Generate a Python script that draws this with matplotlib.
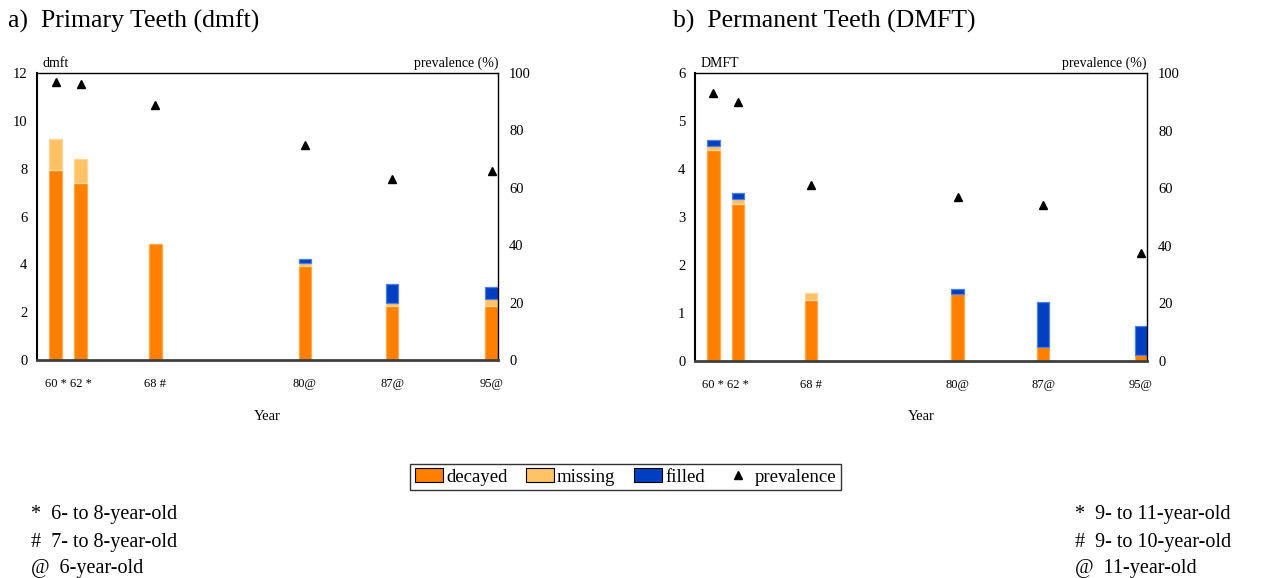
import matplotlib
matplotlib.use("Agg")
import matplotlib.pyplot as plt
from matplotlib.patches import Patch
from matplotlib.lines import Line2D
import numpy as np

# Survey years and their age-group markers
years = [60, 62, 68, 80, 87, 95]
year_labels = ["60 *", "62 *", "68 #", "80@", "87@", "95@"]

# Primary teeth (dmft)
prim_decayed = [7.96, 7.38, 4.84, 3.93, 2.27, 2.27]
prim_missing = [1.26, 1.04, 0.0, 0.14, 0.10, 0.26]
prim_filled = [0.0, 0.0, 0.0, 0.15, 0.79, 0.52]
prim_prevalence = [97, 96, 89, 75, 63, 66]

# Permanent teeth (DMFT)
perm_decayed = [4.39, 3.28, 1.28, 1.40, 0.29, 0.12]
perm_missing = [0.08, 0.09, 0.14, 0.0, 0.0, 0.0]
perm_filled = [0.14, 0.14, 0.0, 0.11, 0.93, 0.60]
perm_prevalence = [93, 90, 61, 57, 54, 37.5]

C_DEC, E_DEC = "#FF8000", "#FFA84A"
C_MIS, E_MIS = "#FFC266", "#FFD699"
C_FIL, E_FIL = "#0040C0", "#4D7FE6"

SERIF = "Liberation Serif"
W, H = 1273, 578
fig = plt.figure(figsize=(W / 100, H / 100), dpi=100)


def px_axes(x0, y0, x1, y1):
    return fig.add_axes([x0 / W, 1 - y1 / H, (x1 - x0) / W, (y1 - y0) / H])


def panel(ax, decayed, missing, filled, prevalence, ymax, ylabel):
    x = np.array(years, dtype=float)
    d = np.array(decayed)
    m = np.array(missing)
    f = np.array(filled)
    bw = 1.02

    def lw(v):
        return [0.9 if h > 0 else 0 for h in v]

    ax.bar(x, d, width=bw, color=C_DEC, edgecolor=E_DEC, linewidth=lw(d), zorder=2)
    ax.bar(x, m, width=bw, bottom=d, color=C_MIS, edgecolor=E_MIS, linewidth=lw(m), zorder=2)
    ax.bar(x, f, width=bw, bottom=d + m, color=C_FIL, edgecolor=E_FIL, linewidth=lw(f), zorder=2)

    ax.set_xlim(58.5, 95.5)
    ax.set_ylim(0, ymax)
    ax.set_xticks(years)
    ax.set_xticklabels(year_labels, fontfamily=SERIF, fontsize=9)
    ax.set_yticks(range(0, ymax + 1, 2 if ymax > 6 else 1))
    ax.tick_params(axis="x", length=0, pad=13)
    ax.tick_params(axis="y", length=0, pad=7, labelsize=10.5)
    for lab in ax.get_yticklabels():
        lab.set_fontfamily(SERIF)
    ax.set_xlabel("Year", fontfamily=SERIF, fontsize=10.5, labelpad=14)
    ax.text(0.012, 1.01, ylabel, transform=ax.transAxes, ha="left", va="bottom",
            fontfamily=SERIF, fontsize=10)
    ax.text(1.0, 1.01, "prevalence (%)", transform=ax.transAxes, ha="right", va="bottom",
            fontfamily=SERIF, fontsize=10)

    for side in ("top", "right"):
        ax.spines[side].set_linewidth(1.0)
        ax.spines[side].set_color("black")
    ax.spines["left"].set_linewidth(1.5)
    ax.spines["left"].set_color("black")
    ax.spines["bottom"].set_linewidth(2.0)
    ax.spines["bottom"].set_color("#404040")

    ax2 = ax.twinx()
    ax2.set_ylim(0, 100)
    ax2.set_yticks(range(0, 101, 20))
    ax2.tick_params(axis="y", length=0, pad=8, labelsize=10.5)
    for lab in ax2.get_yticklabels():
        lab.set_fontfamily(SERIF)
    for s in ax2.spines.values():
        s.set_visible(False)
    ax2.plot(x, prevalence, linestyle="none", marker="^", markersize=5.5,
             color="black", zorder=3)
    return ax2


ax_a = px_axes(37, 73, 498, 360)
panel(ax_a, prim_decayed, prim_missing, prim_filled, prim_prevalence, 12, "dmft")
ax_b = px_axes(695, 73, 1147, 361)
panel(ax_b, perm_decayed, perm_missing, perm_filled, perm_prevalence, 6, "DMFT")

fig.text(8 / W, 1 - 21 / H, "a)  Primary Teeth (dmft)", fontfamily=SERIF,
         fontsize=18.5, ha="left", va="center")
fig.text(673 / W, 1 - 21 / H, "b)  Permanent Teeth (DMFT)", fontfamily=SERIF,
         fontsize=18.5, ha="left", va="center")

handles = [
    Patch(facecolor=C_DEC, edgecolor="black", linewidth=0.8),
    Patch(facecolor=C_MIS, edgecolor="black", linewidth=0.8),
    Patch(facecolor=C_FIL, edgecolor="black", linewidth=0.8),
    Line2D([], [], linestyle="none", marker="^", color="black", markersize=6),
]
leg = fig.legend(handles, ["decayed", "missing", "filled", "prevalence"],
                 loc="center", bbox_to_anchor=(625.5 / W, 1 - 477 / H), ncol=4,
                 prop={"family": SERIF, "size": 13.5}, frameon=True, fancybox=False,
                 edgecolor="black", handlelength=1.5, handleheight=0.7,
                 handletextpad=0.15, columnspacing=1.0, borderpad=0.25,
                 borderaxespad=0)
leg.get_frame().set_linewidth(1.0)

notes_a = ["*  6- to 8-year-old", "#  7- to 8-year-old", "@  6-year-old"]
notes_b = ["*  9- to 11-year-old", "#  9- to 10-year-old", "@  11-year-old"]
for i, (na, nb) in enumerate(zip(notes_a, notes_b)):
    y = 1 - (515 + 27 * i) / H
    fig.text(31 / W, y, na, fontfamily=SERIF, fontsize=14.5, ha="left", va="center")
    fig.text(1075 / W, y, nb, fontfamily=SERIF, fontsize=14.5, ha="left", va="center")

fig.savefig("out.png", dpi=100)
